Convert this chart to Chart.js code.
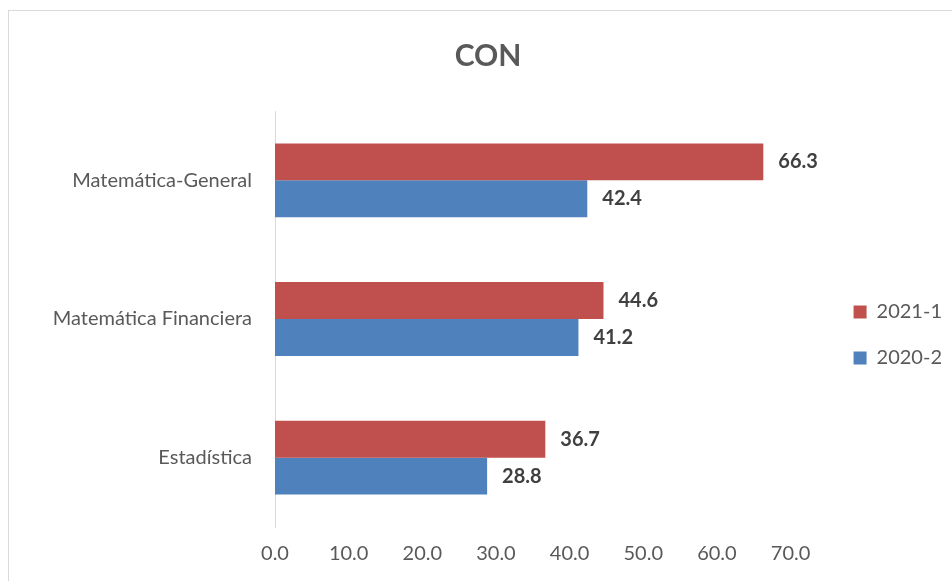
<!DOCTYPE html>
<html><head><meta charset="utf-8">
<script src="https://cdn.jsdelivr.net/npm/chart.js@4.4.0/dist/chart.umd.min.js"></script>
<style>
html,body{margin:0;padding:0;background:#fff;overflow:hidden;width:952px;height:581px;}
#frame{position:absolute;left:8px;top:10px;width:1000px;height:700px;border:1px solid #d9d9d9;box-sizing:border-box;}
#c{position:absolute;left:0;top:0;}
</style></head><body>
<div id="frame"></div>
<canvas id="c" width="952" height="581"></canvas>
<script>
const categories = ['Matemática-General', 'Matemática Financiera', 'Estadística'];
const seriesNames = ['2021-1', '2020-2'];
const values2021_1 = [66.3, 44.6, 36.7];
const values2020_2 = [42.4, 41.2, 28.8];
const xTickValues = [0, 10, 20, 30, 40, 50, 60, 70];
const titleText = 'CON';

const FONT = 'Lato, "Open Sans", sans-serif';
const PAD_LEFT = 24;

const dataLabels = {
  id: 'dataLabels',
  afterDatasetsDraw(chart) {
    const ctx = chart.ctx;
    ctx.save();
    ctx.font = 'bold 20px ' + FONT;
    ctx.fillStyle = '#404040';
    ctx.textAlign = 'left';
    ctx.textBaseline = 'middle';
    chart.data.datasets.forEach((ds, i) => {
      const meta = chart.getDatasetMeta(i);
      meta.data.forEach((el, j) => {
        ctx.fillText(ds.data[j].toFixed(1), el.x + 15, el.y);
      });
    });
    ctx.restore();
  }
};

new Chart(document.getElementById('c'), {
  type: 'bar',
  data: {
    labels: categories,
    datasets: [
      { label: seriesNames[0], data: values2021_1, backgroundColor: '#C0504D', borderWidth: 0 },
      { label: seriesNames[1], data: values2020_2, backgroundColor: '#4F81BD', borderWidth: 0 }
    ]
  },
  options: {
    indexAxis: 'y',
    responsive: false,
    animation: false,
    categoryPercentage: 0.532,
    barPercentage: 1.0,
    layout: { padding: { left: PAD_LEFT, right: 0, top: 0, bottom: 0 } },
    scales: {
      x: {
        min: 0, max: 70,
        afterBuildTicks(scale) { scale.ticks = xTickValues.map(v => ({ value: v })); },
        grid: { display: false, drawTicks: false },
        border: { display: false },
        ticks: {
          padding: 15,
          color: '#595959',
          font: { family: FONT, size: 20 },
          callback: v => Number(v).toFixed(1)
        }
      },
      y: {
        afterFit(scale) { scale.width = 275 - PAD_LEFT; },
        grid: { display: false, drawTicks: false },
        border: { display: true, color: '#d9d9d9', width: 1 },
        ticks: {
          padding: 23,
          color: '#595959',
          font: { family: FONT, size: 20 }
        }
      },
      spacer: {
        type: 'linear',
        position: 'right',
        display: true,
        afterFit(scale) { scale.width = 37; },
        grid: { display: false, drawTicks: false },
        border: { display: false },
        ticks: { display: false }
      }
    },
    plugins: {
      title: {
        display: true,
        text: titleText,
        color: '#595959',
        font: { family: FONT, size: 30, weight: 'bold' },
        padding: { top: 38, bottom: 37 }
      },
      legend: {
        position: 'right',
        fullSize: false,
        align: 'center',
        title: { display: true, text: ' ', font: { size: 10 }, padding: 10 },
        labels: {
          boxWidth: 13,
          boxHeight: 13,
          padding: 26,
          color: '#595959',
          font: { family: FONT, size: 20 }
        }
      },
      tooltip: { enabled: false }
    }
  },
  plugins: [dataLabels]
});
</script>
</body></html>
